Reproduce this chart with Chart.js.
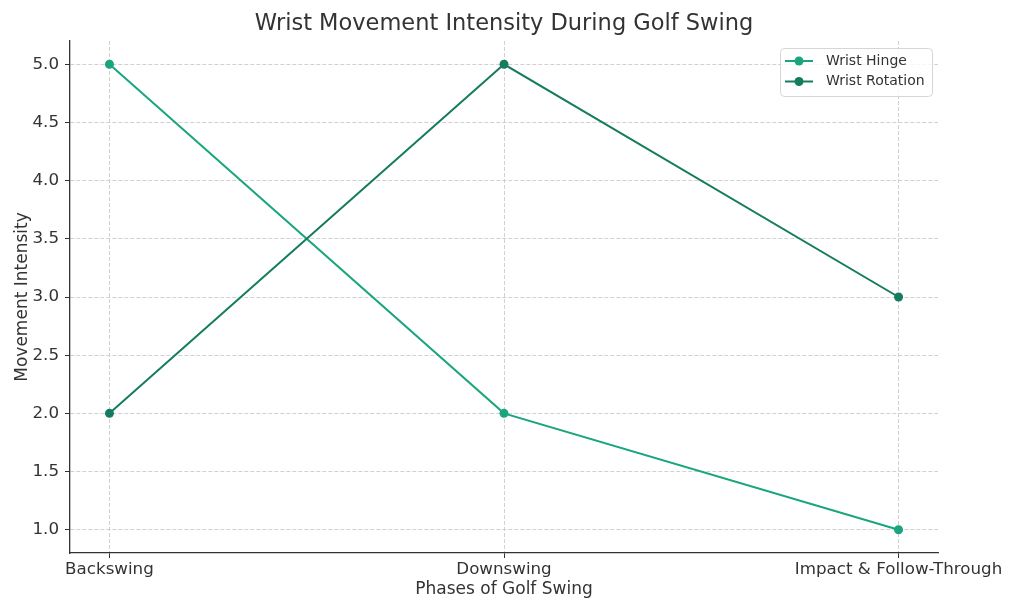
<!DOCTYPE html>
<html>
<head>
<meta charset="utf-8">
<script src="https://cdn.jsdelivr.net/npm/chart.js@4/dist/chart.umd.min.js"></script>
<style>
html,body{margin:0;padding:0;background:#fff;}
#wrap{width:1024px;height:614px;position:relative;}
</style>
</head>
<body>
<div id="wrap"><canvas id="c" width="1024" height="614"></canvas></div>
<script>
const chartTitle = 'Wrist Movement Intensity During Golf Swing';
const categories = ['Backswing', 'Downswing', 'Impact & Follow-Through'];
const seriesNames = ['Wrist Hinge', 'Wrist Rotation'];
const wristHinge = [5, 2, 1];
const wristRotation = [2, 5, 3];
const yTickValues = [1.0, 1.5, 2.0, 2.5, 3.0, 3.5, 4.0, 4.5, 5.0];
const xLabel = 'Phases of Golf Swing';
const yLabel = 'Movement Intensity';

const colors = ['#1aa57f', '#167c5f'];
const FONT = "'DejaVu Sans', sans-serif";
const TXT = '#333333';

const toPoints = arr => arr.map((v, i) => ({x: i, y: v}));

const overlay = {
  id: 'overlay',
  afterDraw(chart) {
    const ctx = chart.ctx;
    const ca = chart.chartArea;
    ctx.save();
    // title
    ctx.fillStyle = TXT;
    ctx.font = '22.5px ' + FONT;
    ctx.textAlign = 'center';
    ctx.textBaseline = 'middle';
    ctx.fillText(chartTitle, (ca.left + ca.right) / 2, 24);
    // legend
    const bx = 780.5, by = 48.5, bw = 152, bh = 48, r = 4;
    ctx.globalAlpha = 0.8;
    ctx.fillStyle = '#ffffff';
    ctx.beginPath();
    ctx.moveTo(bx + r, by);
    ctx.lineTo(bx + bw - r, by);
    ctx.quadraticCurveTo(bx + bw, by, bx + bw, by + r);
    ctx.lineTo(bx + bw, by + bh - r);
    ctx.quadraticCurveTo(bx + bw, by + bh, bx + bw - r, by + bh);
    ctx.lineTo(bx + r, by + bh);
    ctx.quadraticCurveTo(bx, by + bh, bx, by + bh - r);
    ctx.lineTo(bx, by + r);
    ctx.quadraticCurveTo(bx, by, bx + r, by);
    ctx.closePath();
    ctx.fill();
    ctx.globalAlpha = 1;
    ctx.strokeStyle = '#d6d6d6';
    ctx.lineWidth = 1;
    ctx.stroke();
    chart.data.datasets.forEach((ds, i) => {
      const y = 61 + i * 20.5;
      ctx.strokeStyle = ds.borderColor;
      ctx.lineWidth = 2;
      ctx.beginPath();
      ctx.moveTo(785, y);
      ctx.lineTo(813, y);
      ctx.stroke();
      ctx.fillStyle = ds.borderColor;
      ctx.beginPath();
      ctx.arc(799, y, 4.5, 0, Math.PI * 2);
      ctx.fill();
      ctx.fillStyle = TXT;
      ctx.font = '14px ' + FONT;
      ctx.textAlign = 'left';
      ctx.textBaseline = 'middle';
      ctx.fillText(ds.label, 826, y);
    });
    ctx.restore();
  }
};

new Chart(document.getElementById('c'), {
  type: 'line',
  data: {
    datasets: [
      {label: seriesNames[0], data: toPoints(wristHinge), borderColor: colors[0], backgroundColor: colors[0], order: 1,
       borderWidth: 2, pointRadius: 4.5, pointHoverRadius: 4.5, pointBorderWidth: 0, tension: 0},
      {label: seriesNames[1], data: toPoints(wristRotation), borderColor: colors[1], backgroundColor: colors[1], order: 0,
       borderWidth: 2, pointRadius: 4.5, pointHoverRadius: 4.5, pointBorderWidth: 0, tension: 0}
    ]
  },
  options: {
    responsive: false,
    animation: false,
    events: [],
    layout: {padding: {top: 41, right: 86, left: 0, bottom: 0}},
    plugins: {legend: {display: false}, title: {display: false}, tooltip: {enabled: false}},
    scales: {
      x: {
        type: 'linear',
        min: -0.1, max: 2.1,
        afterBuildTicks: s => { s.ticks = categories.map((c, i) => ({value: i})); },
        afterFit: s => { s.height = 61; },
        ticks: {
          callback: v => categories[v],
          color: TXT, font: {family: FONT, size: 16.7}, padding: 2, maxRotation: 0, autoSkip: false
        },
        grid: {color: '#cccccc', lineWidth: 0.9, tickLength: 5, tickColor: '#333', tickWidth: 1, tickBorderDash: []},
        border: {display: true, color: '#333', width: 1.3, dash: [4, 2]},
        title: {display: true, text: xLabel, color: TXT, font: {family: FONT, size: 17}, padding: {top: 0, bottom: 14}}
      },
      y: {
        type: 'linear',
        min: 0.8, max: 5.2,
        afterBuildTicks: s => { s.ticks = yTickValues.map(v => ({value: v})); },
        afterFit: s => { s.width = 70; },
        ticks: {
          callback: v => Number(v).toFixed(1),
          color: TXT, font: {family: FONT, size: 16.7}, padding: 6
        },
        grid: {color: '#cccccc', lineWidth: 0.9, tickLength: 5, tickColor: '#333', tickWidth: 1, tickBorderDash: []},
        border: {display: true, color: '#333', width: 1.3, dash: [4, 2]},
        title: {display: true, text: yLabel, color: TXT, font: {family: FONT, size: 17}, padding: {top: 12, bottom: 0}}
      }
    }
  },
  plugins: [overlay]
});
</script>
</body>
</html>
